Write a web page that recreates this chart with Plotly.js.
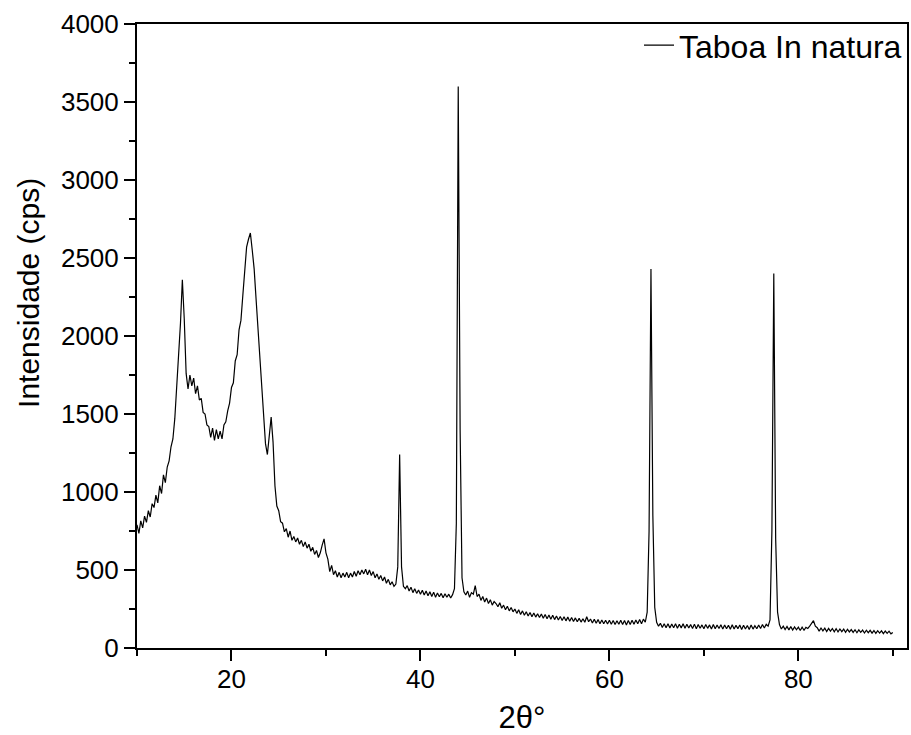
<!DOCTYPE html>
<html>
<head>
<meta charset="utf-8">
<script src="https://cdn.plot.ly/plotly-3.0.1.min.js"></script>
<style>html,body{margin:0;padding:0;background:#fff;}#chart{width:911px;height:735px;}</style>
</head>
<body>
<div id="chart"></div>
<script>
// 2θ sampling of the pattern (degrees): first angle and step
const twoThetaStart = 10.0;
const twoThetaStep = 0.2;

// Intensity (cps), one row per 2 degrees (10 samples, 0.2° apart)
const intensity = [
  790, 735, 815, 770, 845, 805, 880, 840, 925, 900,            // 10-11.8
  980, 930, 1040, 990, 1110, 1060, 1160, 1200, 1290, 1340,     // 12-13.8
  1470, 1650, 1900, 2080, 2360, 2110, 1760, 1660, 1750, 1680,  // 14-15.8
  1730, 1630, 1680, 1590, 1600, 1510, 1500, 1430, 1420, 1350,  // 16-17.8
  1410, 1330, 1400, 1340, 1390, 1340, 1430, 1450, 1520, 1570,  // 18-19.8
  1670, 1700, 1840, 1880, 2040, 2100, 2260, 2390, 2570, 2620,  // 20-21.8
  2660, 2550, 2430, 2240, 2050, 1840, 1670, 1490, 1310, 1240,  // 22-23.8
  1360, 1480, 1320, 1040, 910, 880, 810, 800, 745, 765,        // 24-25.8
  710, 750, 690, 715, 680, 705, 665, 690, 650, 680,            // 26-27.8
  640, 665, 620, 645, 600, 625, 580, 610, 660, 700,            // 28-29.8
  610, 570, 490, 530, 470, 495, 455, 485, 450, 480,            // 30-31.8
  455, 485, 450, 480, 455, 490, 460, 495, 470, 500,            // 32-33.8
  475, 505, 470, 500, 465, 490, 450, 475, 440, 465,            // 34-35.8
  430, 455, 415, 440, 405, 425, 395, 410, 520, 1240,           // 36-37.8
  520, 395, 380, 400, 365, 390, 355, 380, 350, 372,            // 38-39.8
  345, 370, 340, 365, 335, 360, 330, 358, 325, 352,            // 40-41.8
  328, 350, 322, 348, 325, 345, 320, 342, 380, 800,            // 42-43.8
  3600, 1400, 450, 360, 340, 365, 325, 355, 345, 400,          // 44-45.8
  330, 345, 305, 330, 295, 320, 285, 310, 275, 298,            // 46-47.8
  285, 265, 290, 255, 275, 245, 268, 238, 260, 232,            // 48-49.8
  250, 222, 245, 215, 238, 210, 232, 205, 228, 200,            // 50-51.8
  225, 198, 220, 195, 218, 190, 215, 188, 212, 185,            // 52-53.8
  210, 182, 205, 180, 202, 176, 200, 174, 198, 172,            // 54-55.8
  196, 170, 193, 168, 190, 166, 188, 165, 200, 168,            // 56-57.8
  186, 160, 184, 158, 182, 156, 180, 155, 178, 154,            // 58-59.8
  178, 152, 176, 150, 175, 152, 178, 150, 176, 148,            // 60-61.8
  176, 150, 178, 152, 180, 155, 182, 156, 185, 165,            // 62-63.8
  230, 750, 2430, 850, 260, 165, 140, 158, 132, 155,           // 64-65.8
  130, 156, 128, 154, 130, 155, 127, 152, 129, 155,            // 66-67.8
  126, 152, 128, 150, 125, 153, 124, 150, 127, 148,            // 68-69.8
  124, 150, 126, 148, 122, 151, 123, 147, 125, 149,            // 70-71.8
  121, 148, 123, 146, 120, 149, 122, 145, 124, 147,            // 72-73.8
  119, 146, 122, 144, 118, 147, 121, 143, 123, 148,            // 74-75.8
  125, 150, 128, 152, 140, 180, 750, 2400, 700, 230,           // 76-77.8
  150, 122, 140, 118, 138, 116, 137, 115, 135, 117,            // 78-79.8
  134, 112, 133, 114, 132, 125, 140, 155, 175, 140,            // 80-81.8
  130, 108, 128, 110, 127, 106, 126, 108, 125, 104,            // 82-83.8
  124, 103, 122, 105, 121, 101, 120, 103, 118, 100,            // 84-85.8
  117, 98, 116, 100, 115, 96, 114, 98, 113, 95,                // 86-87.8
  112, 94, 111, 96, 110, 92, 109, 94, 108, 91,                 // 88-89.8
  100                                                          // 90
];

const seriesName = "Taboa In natura";
const xTitle = "2θ°";
const yTitle = "Intensidade (cps)";
const yTickVals = [0, 500, 1000, 1500, 2000, 2500, 3000, 3500, 4000];
const xTickVals = [20, 40, 60, 80];

const FONT = "Arial, 'Liberation Sans', sans-serif";

const trace = {
  type: "scatter",
  mode: "lines",
  name: seriesName,
  x0: twoThetaStart,
  dx: twoThetaStep,
  y: intensity,
  line: {color: "#000000", width: 1.2},
  showlegend: true
};

const axisCommon = {
  showline: true,
  linecolor: "#000",
  linewidth: 2,
  mirror: true,
  showgrid: false,
  zeroline: false,
  ticks: "outside",
  ticklen: 11,
  tickwidth: 2,
  tickcolor: "#000",
  tickfont: {family: FONT, size: 26, color: "#000"}
};

const layout = {
  width: 911,
  height: 735,
  paper_bgcolor: "#fff",
  plot_bgcolor: "#fff",
  margin: {l: 137, r: 4, t: 24, b: 87},
  showlegend: true,
  legend: {
    x: 1, y: 1.01, xanchor: "right", yanchor: "top",
    bgcolor: "rgba(0,0,0,0)",
    borderwidth: 0,
    font: {family: FONT, size: 32, color: "#000"},
    itemwidth: 30
  },
  xaxis: Object.assign({}, axisCommon, {
    range: [10, 91.5],
    tickmode: "array",
    tickvals: xTickVals,
    ticktext: xTickVals.map(String),
    ticklabelstandoff: -4,
    minor: {dtick: 10, tick0: 0, ticks: "outside", ticklen: 6, tickwidth: 2, tickcolor: "#000"},
    title: {text: xTitle, font: {family: FONT, size: 31, color: "#000"}, standoff: 20}
  }),
  yaxis: Object.assign({}, axisCommon, {
    range: [0, 4000],
    tickmode: "array",
    tickvals: yTickVals,
    ticktext: yTickVals.map(String),
    minor: {dtick: 250, tick0: 0, ticks: "outside", ticklen: 6, tickwidth: 2, tickcolor: "#000"}
  }),
  annotations: [{
    text: yTitle,
    textangle: -90,
    xref: "paper", yref: "paper",
    x: 0, xshift: -108,
    y: 0.569,
    xanchor: "center", yanchor: "middle",
    showarrow: false,
    font: {family: FONT, size: 30, color: "#000"}
  }]
};

Plotly.newPlot("chart", [trace], layout, {staticPlot: true, displayModeBar: false});
</script>
</body>
</html>
